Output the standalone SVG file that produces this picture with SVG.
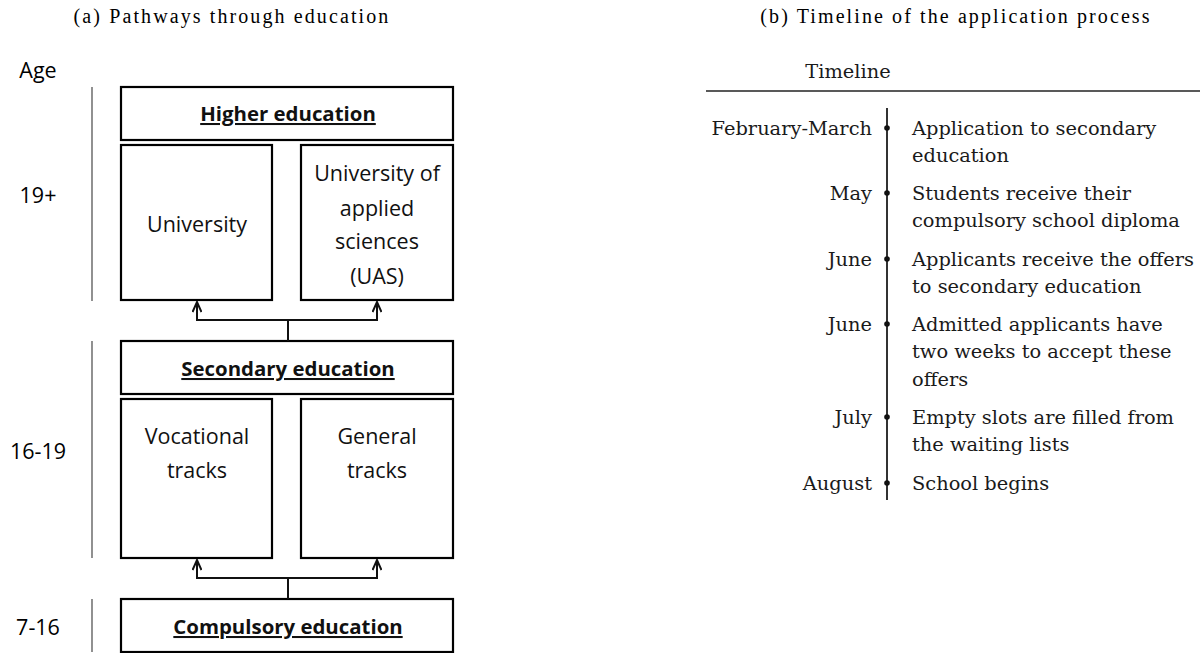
<svg xmlns="http://www.w3.org/2000/svg" width="1202" height="653" viewBox="0 0 1202 653">
<style>
.title{font-family:"Liberation Serif",serif;font-size:20px;letter-spacing:2.1px;fill:#000;text-anchor:middle}
.box{fill:#fff;stroke:#000;stroke-width:2.2}
.lbl{font-family:"Open Sans","Noto Sans",sans-serif;font-size:21.5px;fill:#111;text-anchor:middle}
.hd{font-family:"Open Sans","Noto Sans",sans-serif;font-size:20.4px;font-weight:bold;fill:#111;text-anchor:middle;text-decoration:underline}
.age{font-family:"Open Sans","Noto Sans",sans-serif;font-size:21.5px;fill:#000;text-anchor:middle}
.agel{stroke:#555;stroke-width:1.3}
.conn{fill:none;stroke:#111;stroke-width:2}
.tl{font-family:"DejaVu Serif",serif;font-size:19.4px;fill:#1a1a1a}
.tr{text-anchor:end}
</style>
<defs>
<marker id="ah" viewBox="0 0 12 10" refX="11" refY="5" markerWidth="12" markerHeight="10" markerUnits="userSpaceOnUse" orient="auto">
<path d="M1,0.5 L11,5 L1,9.5" fill="none" stroke="#111" stroke-width="2"/>
</marker>
</defs>
<text class="title" x="232" y="23">(a) Pathways through education</text>
<text class="title" x="956" y="23">(b) Timeline of the application process</text>
<g id="age-axis">
<text class="age" x="38" y="78">Age</text>
<line class="agel" x1="92" y1="87" x2="92" y2="301"/>
<text class="age" x="38" y="203">19+</text>
<line class="agel" x1="92" y1="341" x2="92" y2="558"/>
<text class="age" x="38" y="459">16-19</text>
<line class="agel" x1="92" y1="599" x2="92" y2="652"/>
<text class="age" x="38" y="635">7-16</text>
</g>
<g id="higher"><rect class="box" x="121" y="87" width="332" height="53"/><text class="hd" x="288" y="121">Higher education</text></g>
<g id="university"><rect class="box" x="121" y="145" width="151" height="155"/><text class="lbl" x="197" y="232">University</text></g>
<g id="uas"><rect class="box" x="301" y="145" width="152" height="155"/><text class="lbl" x="377" y="181">University of</text><text class="lbl" x="377" y="216">applied</text><text class="lbl" x="377" y="249">sciences</text><text class="lbl" x="377" y="284">(UAS)</text></g>
<g id="secondary"><rect class="box" x="121" y="341" width="332" height="53"/><text class="hd" x="288" y="376">Secondary education</text></g>
<g id="vocational"><rect class="box" x="121" y="399" width="151" height="159"/><text class="lbl" x="197" y="444">Vocational</text><text class="lbl" x="197" y="478">tracks</text></g>
<g id="general"><rect class="box" x="301" y="399" width="152" height="159"/><text class="lbl" x="377" y="444">General</text><text class="lbl" x="377" y="478">tracks</text></g>
<g id="compulsory"><rect class="box" x="121" y="599" width="332" height="53"/><text class="hd" x="288" y="634">Compulsory education</text></g>
<g id="connectors">
<path class="conn" d="M288,341 V320 H197 V302" marker-end="url(#ah)"/>
<path class="conn" d="M288,320 H377 V302" marker-end="url(#ah)"/>
<path class="conn" d="M288,599 V578 H197 V560" marker-end="url(#ah)"/>
<path class="conn" d="M288,578 H377 V560" marker-end="url(#ah)"/>
</g>
<g id="timeline">
<text class="tl" x="848" y="78" text-anchor="middle">Timeline</text>
<line x1="706" y1="91" x2="1200" y2="91" stroke="#222" stroke-width="1.5"/>
<line x1="887" y1="108" x2="887" y2="500" stroke="#333" stroke-width="2"/>
<g fill="#111"><circle cx="887" cy="128" r="2.8"/><circle cx="887" cy="193" r="2.8"/><circle cx="887" cy="259" r="2.8"/><circle cx="887" cy="324" r="2.8"/><circle cx="887" cy="417" r="2.8"/><circle cx="887" cy="483" r="2.8"/></g>
<text class="tl tr" x="872" y="135">February-March</text>
<text class="tl" x="912" y="135">Application to secondary</text>
<text class="tl" x="912" y="162">education</text>
<text class="tl tr" x="872" y="200">May</text>
<text class="tl" x="912" y="200">Students receive their</text>
<text class="tl" x="912" y="227">compulsory school diploma</text>
<text class="tl tr" x="872" y="266">June</text>
<text class="tl" x="912" y="266">Applicants receive the offers</text>
<text class="tl" x="912" y="293">to secondary education</text>
<text class="tl tr" x="872" y="331">June</text>
<text class="tl" x="912" y="331">Admitted applicants have</text>
<text class="tl" x="912" y="358">two weeks to accept these</text>
<text class="tl" x="912" y="386">offers</text>
<text class="tl tr" x="872" y="424">July</text>
<text class="tl" x="912" y="424">Empty slots are filled from</text>
<text class="tl" x="912" y="451">the waiting lists</text>
<text class="tl tr" x="872" y="490">August</text>
<text class="tl" x="912" y="490">School begins</text>
</g>
</svg>
